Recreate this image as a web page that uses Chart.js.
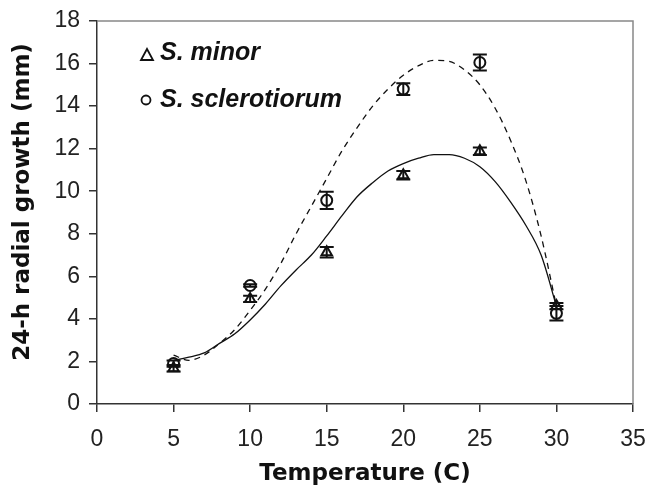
<!DOCTYPE html>
<html>
<head>
<meta charset="utf-8">
<script src="https://cdn.jsdelivr.net/npm/chart.js@4/dist/chart.umd.min.js"></script>
<style>
  html, body { margin: 0; padding: 0; background: #fff; }
  #box { width: 648px; height: 490px; }
</style>
</head>
<body>
<div id="box"><canvas id="grafico"></canvas></div>
<script>
// temperatures measured (C)
const temps = [5, 10, 15, 20, 25, 30];
// S. minor means and error
const minorMean = [1.68, 4.94, 7.13, 10.75, 11.88, 4.6];
const minorErr = [0.15, 0.15, 0.25, 0.2, 0.18, 0.15];
// S. sclerotiorum means and error
const sclerMean = [1.9, 5.57, 9.57, 14.8, 16.05, 4.26];
const sclerErr = [0.15, 0.06, 0.4, 0.28, 0.38, 0.34];

// fitted curves
const fitTemps = [5, 6, 7, 8, 9, 10, 11, 12, 13, 14, 15, 16, 17, 18, 19, 20, 21, 22, 23, 24, 25, 26, 27, 28, 29, 30];
const minorFit = [2.05, 2.2, 2.4, 2.85, 3.3, 3.95, 4.7, 5.55, 6.3, 7.0, 7.9, 8.85, 9.75, 10.4, 10.95, 11.3, 11.55, 11.72, 11.72, 11.55, 11.15, 10.45, 9.5, 8.4, 7.0, 4.6];
const sclerFit = [2.3, 2.05, 2.3, 2.85, 3.5, 4.4, 5.4, 6.6, 8.0, 9.3, 10.6, 11.9, 13.0, 14.0, 14.8, 15.45, 15.9, 16.15, 16.1, 15.7, 15.0, 13.9, 12.4, 10.5, 7.9, 4.6];

const xTicks = [0, 5, 10, 15, 20, 25, 30, 35];
const yTicks = [0, 2, 4, 6, 8, 10, 12, 14, 16, 18];

const toPts = (xs, ys) => xs.map((v, i) => ({ x: v, y: ys[i] }));

// barras de erro
const errorBars = {
    id: 'errorBars',
    afterDatasetsDraw(chart) {
        const { ctx, scales: { x, y } } = chart;
        ctx.save();
        ctx.strokeStyle = '#111';
        ctx.lineWidth = 2;
        [[minorMean, minorErr], [sclerMean, sclerErr]].forEach(([m, e]) => {
            temps.forEach((t, i) => {
                const px = x.getPixelForValue(t);
                const top = y.getPixelForValue(m[i] + e[i]);
                const bot = y.getPixelForValue(m[i] - e[i]);
                ctx.beginPath();
                ctx.moveTo(px, top); ctx.lineTo(px, bot);
                ctx.moveTo(px - 7, top); ctx.lineTo(px + 7, top);
                ctx.moveTo(px - 7, bot); ctx.lineTo(px + 7, bot);
                ctx.stroke();
            });
        });
        ctx.restore();
    }
};

// moldura cinza, legenda e titulo do eixo y
const frameAndLegend = {
    id: 'frameAndLegend',
    afterDraw(chart) {
        const { ctx, chartArea: a } = chart;
        ctx.save();
        ctx.strokeStyle = '#888';
        ctx.lineWidth = 1.5;
        ctx.beginPath();
        ctx.moveTo(a.left, a.top); ctx.lineTo(a.right, a.top); ctx.lineTo(a.right, a.bottom);
        ctx.stroke();

        ctx.strokeStyle = '#111';
        ctx.lineWidth = 1.8;
        // triangle
        ctx.beginPath();
        ctx.moveTo(147, 49); ctx.lineTo(153, 60); ctx.lineTo(141, 60); ctx.closePath();
        ctx.stroke();
        // circle
        ctx.beginPath();
        ctx.arc(146, 100, 4.5, 0, Math.PI * 2);
        ctx.stroke();

        ctx.fillStyle = '#111';
        ctx.font = 'italic bold 25px "Liberation Sans", Arial, sans-serif';
        ctx.textBaseline = 'middle';
        ctx.fillText('S. minor', 160, 53);
        ctx.fillText('S. sclerotiorum', 160, 100);

        ctx.translate(23, 202);
        ctx.rotate(-Math.PI / 2);
        ctx.textAlign = 'center';
        ctx.font = 'bold 23px "DejaVu Sans", Verdana, sans-serif';
        ctx.fillText('24-h radial growth (mm)', 0, 0);
        ctx.restore();
    }
};

const ctx = document.getElementById('grafico').getContext('2d');
const grafico = new Chart(ctx, {
    type: 'scatter',
    data: {
        datasets: [
            {
                label: 'S. minor fit',
                data: toPts(fitTemps, minorFit),
                showLine: true,
                borderColor: '#111',
                borderWidth: 1.3,
                pointRadius: 0,
                cubicInterpolationMode: 'monotone'
            },
            {
                label: 'S. sclerotiorum fit',
                data: toPts(fitTemps, sclerFit),
                showLine: true,
                borderColor: '#111',
                borderWidth: 1.3,
                borderDash: [6, 5],
                pointRadius: 0,
                cubicInterpolationMode: 'monotone'
            },
            {
                label: 'S. minor',
                data: toPts(temps, minorMean),
                pointStyle: 'triangle',
                pointRadius: 6,
                borderColor: '#111',
                borderWidth: 2,
                backgroundColor: '#fff'
            },
            {
                label: 'S. sclerotiorum',
                data: toPts(temps, sclerMean),
                pointStyle: 'circle',
                pointRadius: 5.5,
                borderColor: '#111',
                borderWidth: 2,
                backgroundColor: '#fff'
            }
        ]
    },
    options: {
        responsive: true,
        maintainAspectRatio: false,
        animation: false,
        layout: { padding: { top: 21, right: 15, left: 0, bottom: 0 } },
        plugins: {
            legend: { display: false },
            title: { display: false },
            tooltip: { enabled: false }
        },
        scales: {
            x: {
                type: 'linear',
                min: 0,
                max: 35,
                afterBuildTicks: (s) => { s.ticks = xTicks.map(v => ({ value: v })); },
                afterFit: (s) => { s.height = 86; s.paddingLeft = 0; s.paddingRight = 0; },
                grid: { drawOnChartArea: false, drawTicks: true, tickLength: 8, color: '#333', lineWidth: 1.5 },
                border: { color: '#333', width: 1.5 },
                ticks: { color: '#222', font: { family: '"Liberation Sans", Arial, sans-serif', size: 23 }, padding: 14 },
                title: {
                    display: true,
                    text: 'Temperature (C)',
                    color: '#111',
                    font: { family: '"DejaVu Sans", Verdana, sans-serif', size: 23, weight: 'bold' },
                    padding: { top: 0, bottom: 2 }
                }
            },
            y: {
                min: 0,
                max: 18,
                afterBuildTicks: (s) => { s.ticks = yTicks.map(v => ({ value: v })); },
                afterFit: (s) => { s.width = 97; s.paddingTop = 0; s.paddingBottom = 0; },
                grid: { drawOnChartArea: false, drawTicks: true, tickLength: 8, color: '#333', lineWidth: 1.5 },
                border: { color: '#333', width: 1.5 },
                ticks: { color: '#222', font: { family: '"Liberation Sans", Arial, sans-serif', size: 23 }, padding: 9 }
            }
        }
    },
    plugins: [errorBars, frameAndLegend]
});
</script>
</body>
</html>
